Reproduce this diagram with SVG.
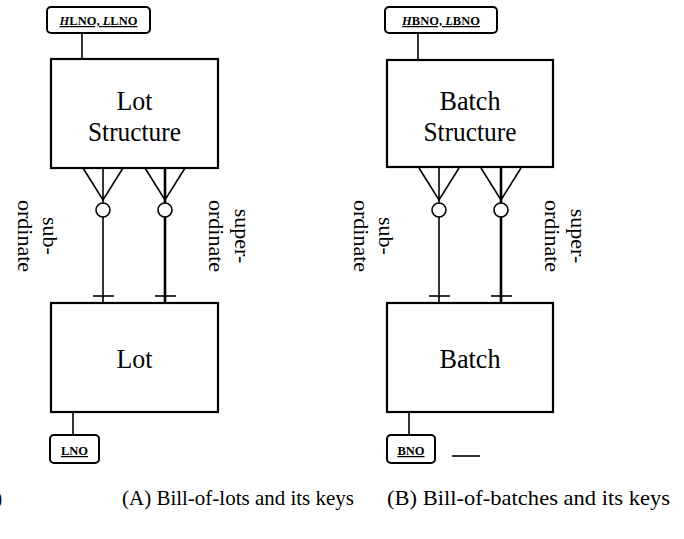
<svg xmlns="http://www.w3.org/2000/svg" width="684" height="539" viewBox="0 0 684 539">
<style>
.box{fill:#fff;stroke:#000;stroke-width:2.2}
.key{fill:#fff;stroke:#000;stroke-width:2;}
.ln{stroke:#000;stroke-width:1.6;fill:none}
.lnb{stroke:#000;stroke-width:2.6;fill:none}
.circ{fill:#fff;stroke:#000;stroke-width:1.6}
.t{font-family:"Liberation Serif","Times New Roman",serif;fill:#000}
.big{font-size:27px;text-anchor:middle}
.lab{font-size:22px;text-anchor:middle}
.k{font-size:12.5px;font-weight:bold;text-anchor:middle;text-decoration:underline}
.cap{font-size:22px}
</style>
<rect width="684" height="539" fill="#fff"/>
<g id="connectors">
  <line class="ln" x1="82" y1="33" x2="82" y2="59"/>
  <line class="ln" x1="73" y1="412" x2="73" y2="435"/>
  <polyline class="ln" points="83,168 103,200 123,168"/>
  <line class="ln" x1="103" y1="168" x2="103" y2="303"/>
  <line class="ln" x1="93" y1="296" x2="114" y2="296"/>
  <polyline class="ln" points="145,168 165,200 185,168"/>
  <line class="lnb" x1="165" y1="168" x2="165" y2="303"/>
  <line class="ln" x1="155" y1="296" x2="176" y2="296"/>
  <circle class="circ" cx="103" cy="210" r="7"/>
  <circle class="circ" cx="165" cy="210" r="7"/>
  <line class="ln" x1="418" y1="33" x2="418" y2="60"/>
  <line class="ln" x1="409" y1="412" x2="409" y2="435"/>
  <polyline class="ln" points="419,168 439,200 459,168"/>
  <line class="ln" x1="439" y1="168" x2="439" y2="303"/>
  <line class="ln" x1="429" y1="296" x2="450" y2="296"/>
  <polyline class="ln" points="481,168 501,200 521,168"/>
  <line class="lnb" x1="501" y1="168" x2="501" y2="303"/>
  <line class="ln" x1="491" y1="296" x2="512" y2="296"/>
  <circle class="circ" cx="439" cy="210" r="7"/>
  <circle class="circ" cx="501" cy="210" r="7"/>
  <line class="ln" x1="452" y1="456" x2="480" y2="456"/>
</g>
<g id="lot-structure">
  <rect class="box" x="51" y="59" width="167" height="109"/>
  <text class="t big" x="134.5" y="110" textLength="36" lengthAdjust="spacingAndGlyphs">Lot</text>
  <text class="t big" x="134.5" y="141" textLength="93" lengthAdjust="spacingAndGlyphs">Structure</text>
</g>
<g id="lot">
  <rect class="box" x="51" y="303" width="167" height="109"/>
  <text class="t big" x="134.5" y="368" textLength="36" lengthAdjust="spacingAndGlyphs">Lot</text>
</g>
<g id="batch-structure">
  <rect class="box" x="387" y="60" width="166" height="107"/>
  <text class="t big" x="470" y="110" textLength="61" lengthAdjust="spacingAndGlyphs">Batch</text>
  <text class="t big" x="470" y="141" textLength="93" lengthAdjust="spacingAndGlyphs">Structure</text>
</g>
<g id="batch">
  <rect class="box" x="387" y="303" width="166" height="109"/>
  <text class="t big" x="470" y="368" textLength="61" lengthAdjust="spacingAndGlyphs">Batch</text>
</g>
<g id="key-hllno">
  <rect class="key" x="47" y="7" width="103" height="26" rx="4"/>
  <text class="t k" x="98.5" y="25"><tspan font-style="italic">H</tspan>LNO, <tspan font-style="italic">L</tspan>LNO</text>
</g>
<g id="key-hbno">
  <rect class="key" x="385" y="7" width="112" height="26" rx="4"/>
  <text class="t k" x="441" y="25"><tspan font-style="italic">H</tspan>BNO, <tspan font-style="italic">L</tspan>BNO</text>
</g>
<g id="key-lno">
  <rect class="key" x="50" y="435" width="49" height="28" rx="4"/>
  <text class="t k" x="74.5" y="455">LNO</text>
</g>
<g id="key-bno">
  <rect class="key" x="387" y="435" width="48" height="28" rx="4"/>
  <text class="t k" x="411" y="455">BNO</text>
</g>
<g id="labels">
  <text class="t lab" transform="translate(43,236) rotate(90)">sub-</text>
  <text class="t lab" transform="translate(18,236) rotate(90)">ordinate</text>
  <text class="t lab" transform="translate(235,236) rotate(90)">super-</text>
  <text class="t lab" transform="translate(209,236) rotate(90)">ordinate</text>
  <text class="t lab" transform="translate(379,236) rotate(90)">sub-</text>
  <text class="t lab" transform="translate(354,236) rotate(90)">ordinate</text>
  <text class="t lab" transform="translate(571,236) rotate(90)">super-</text>
  <text class="t lab" transform="translate(545,236) rotate(90)">ordinate</text>
</g>
<g id="captions">
  <text class="t cap" x="122" y="505" textLength="232" lengthAdjust="spacingAndGlyphs">(A) Bill-of-lots and its keys</text>
  <text class="t cap" x="387" y="505" textLength="283" lengthAdjust="spacingAndGlyphs">(B) Bill-of-batches and its keys</text>
  <text class="t cap" x="-5" y="505">)</text>
</g>
</svg>
